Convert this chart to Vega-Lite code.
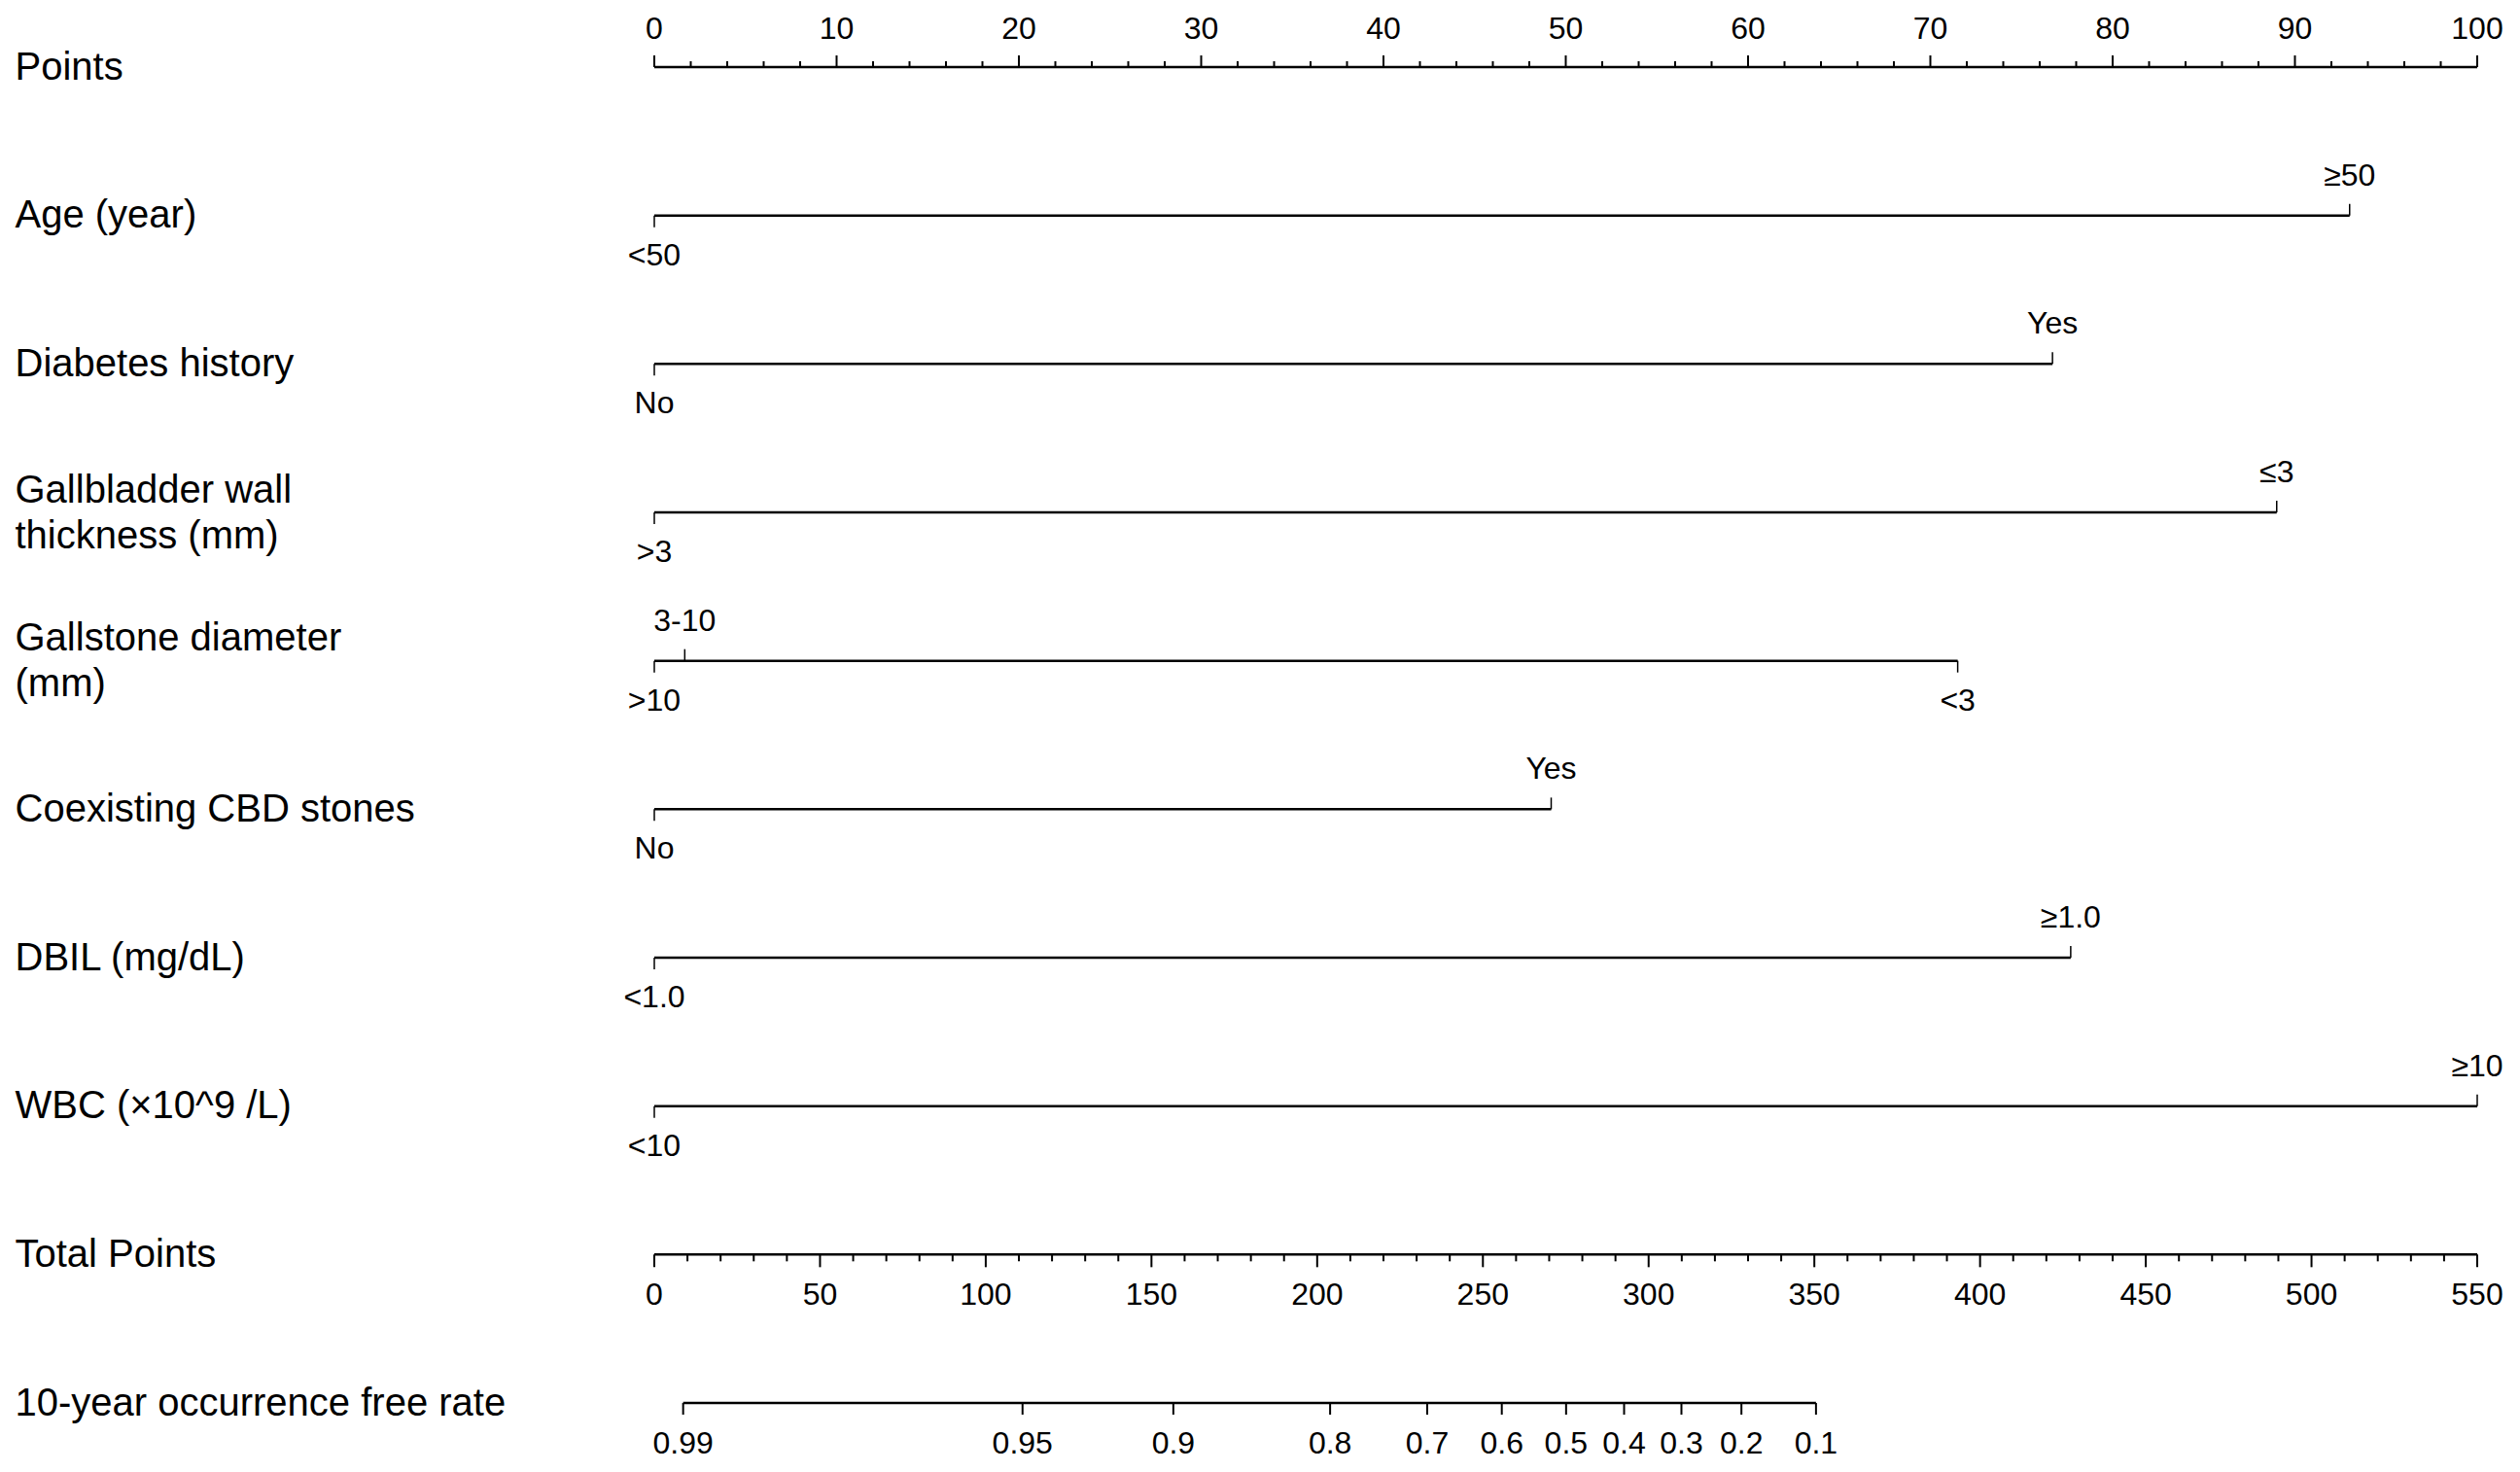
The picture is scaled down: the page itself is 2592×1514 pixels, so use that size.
{
  "$schema": "https://vega.github.io/schema/vega-lite/v6.json",
  "width": 1875,
  "height": 1374,
  "autosize": "none",
  "padding": {"left": 673, "top": 69, "right": 44, "bottom": 71},
  "background": "white",
  "config": {"view": {"stroke": null}, "text": {"font": "Liberation Sans", "fontSize": 32, "color": "black"}},
  "datasets": {
    "ptsMajor": [
      {"row": "Points", "v": 0}, {"row": "Points", "v": 10}, {"row": "Points", "v": 20}, {"row": "Points", "v": 30},
      {"row": "Points", "v": 40}, {"row": "Points", "v": 50}, {"row": "Points", "v": 60}, {"row": "Points", "v": 70},
      {"row": "Points", "v": 80}, {"row": "Points", "v": 90}, {"row": "Points", "v": 100}
    ],
    "ptsMinor": [
      {"row": "Points", "v": 2}, {"row": "Points", "v": 4}, {"row": "Points", "v": 6}, {"row": "Points", "v": 8},
      {"row": "Points", "v": 12}, {"row": "Points", "v": 14}, {"row": "Points", "v": 16}, {"row": "Points", "v": 18},
      {"row": "Points", "v": 22}, {"row": "Points", "v": 24}, {"row": "Points", "v": 26}, {"row": "Points", "v": 28},
      {"row": "Points", "v": 32}, {"row": "Points", "v": 34}, {"row": "Points", "v": 36}, {"row": "Points", "v": 38},
      {"row": "Points", "v": 42}, {"row": "Points", "v": 44}, {"row": "Points", "v": 46}, {"row": "Points", "v": 48},
      {"row": "Points", "v": 52}, {"row": "Points", "v": 54}, {"row": "Points", "v": 56}, {"row": "Points", "v": 58},
      {"row": "Points", "v": 62}, {"row": "Points", "v": 64}, {"row": "Points", "v": 66}, {"row": "Points", "v": 68},
      {"row": "Points", "v": 72}, {"row": "Points", "v": 74}, {"row": "Points", "v": 76}, {"row": "Points", "v": 78},
      {"row": "Points", "v": 82}, {"row": "Points", "v": 84}, {"row": "Points", "v": 86}, {"row": "Points", "v": 88},
      {"row": "Points", "v": 92}, {"row": "Points", "v": 94}, {"row": "Points", "v": 96}, {"row": "Points", "v": 98}
    ],
    "ptsLines": [
      {"row": "Points", "from": 0, "to": 100},
      {"row": "Age (year)", "from": 0, "to": 93.0},
      {"row": "Diabetes history", "from": 0, "to": 76.7},
      {"row": "Gallbladder wall\nthickness (mm)", "from": 0, "to": 89.0},
      {"row": "Gallstone diameter\n(mm)", "from": 0, "to": 71.5},
      {"row": "Coexisting CBD stones", "from": 0, "to": 49.2},
      {"row": "DBIL (mg/dL)", "from": 0, "to": 77.7},
      {"row": "WBC (×10^9 /L)", "from": 0, "to": 100}
    ],
    "vars": [
      {"row": "Age (year)", "level": "<50", "pts": 0, "side": "below"},
      {"row": "Age (year)", "level": "≥50", "pts": 93.0, "side": "above"},
      {"row": "Diabetes history", "level": "No", "pts": 0, "side": "below"},
      {"row": "Diabetes history", "level": "Yes", "pts": 76.7, "side": "above"},
      {"row": "Gallbladder wall\nthickness (mm)", "level": ">3", "pts": 0, "side": "below"},
      {"row": "Gallbladder wall\nthickness (mm)", "level": "≤3", "pts": 89.0, "side": "above"},
      {"row": "Gallstone diameter\n(mm)", "level": ">10", "pts": 0, "side": "below"},
      {"row": "Gallstone diameter\n(mm)", "level": "3-10", "pts": 1.67, "side": "above"},
      {"row": "Gallstone diameter\n(mm)", "level": "<3", "pts": 71.5, "side": "below"},
      {"row": "Coexisting CBD stones", "level": "No", "pts": 0, "side": "below"},
      {"row": "Coexisting CBD stones", "level": "Yes", "pts": 49.2, "side": "above"},
      {"row": "DBIL (mg/dL)", "level": "<1.0", "pts": 0, "side": "below"},
      {"row": "DBIL (mg/dL)", "level": "≥1.0", "pts": 77.7, "side": "above"},
      {"row": "WBC (×10^9 /L)", "level": "<10", "pts": 0, "side": "below"},
      {"row": "WBC (×10^9 /L)", "level": "≥10", "pts": 100, "side": "above"}
    ],
    "totLines": [
      {"row": "Total Points", "from": 0, "to": 550},
      {"row": "10-year occurrence free rate", "from": 8.7, "to": 350.5}
    ],
    "totMajor": [
      {"row": "Total Points", "v": 0}, {"row": "Total Points", "v": 50}, {"row": "Total Points", "v": 100},
      {"row": "Total Points", "v": 150}, {"row": "Total Points", "v": 200}, {"row": "Total Points", "v": 250},
      {"row": "Total Points", "v": 300}, {"row": "Total Points", "v": 350}, {"row": "Total Points", "v": 400},
      {"row": "Total Points", "v": 450}, {"row": "Total Points", "v": 500}, {"row": "Total Points", "v": 550}
    ],
    "totMinor": [
      {"row": "Total Points", "v": 10}, {"row": "Total Points", "v": 20}, {"row": "Total Points", "v": 30}, {"row": "Total Points", "v": 40},
      {"row": "Total Points", "v": 60}, {"row": "Total Points", "v": 70}, {"row": "Total Points", "v": 80}, {"row": "Total Points", "v": 90},
      {"row": "Total Points", "v": 110}, {"row": "Total Points", "v": 120}, {"row": "Total Points", "v": 130}, {"row": "Total Points", "v": 140},
      {"row": "Total Points", "v": 160}, {"row": "Total Points", "v": 170}, {"row": "Total Points", "v": 180}, {"row": "Total Points", "v": 190},
      {"row": "Total Points", "v": 210}, {"row": "Total Points", "v": 220}, {"row": "Total Points", "v": 230}, {"row": "Total Points", "v": 240},
      {"row": "Total Points", "v": 260}, {"row": "Total Points", "v": 270}, {"row": "Total Points", "v": 280}, {"row": "Total Points", "v": 290},
      {"row": "Total Points", "v": 310}, {"row": "Total Points", "v": 320}, {"row": "Total Points", "v": 330}, {"row": "Total Points", "v": 340},
      {"row": "Total Points", "v": 360}, {"row": "Total Points", "v": 370}, {"row": "Total Points", "v": 380}, {"row": "Total Points", "v": 390},
      {"row": "Total Points", "v": 410}, {"row": "Total Points", "v": 420}, {"row": "Total Points", "v": 430}, {"row": "Total Points", "v": 440},
      {"row": "Total Points", "v": 460}, {"row": "Total Points", "v": 470}, {"row": "Total Points", "v": 480}, {"row": "Total Points", "v": 490},
      {"row": "Total Points", "v": 510}, {"row": "Total Points", "v": 520}, {"row": "Total Points", "v": 530}, {"row": "Total Points", "v": 540}
    ],
    "surv": [
      {"row": "10-year occurrence free rate", "p": "0.99", "tot": 8.7},
      {"row": "10-year occurrence free rate", "p": "0.95", "tot": 111.1},
      {"row": "10-year occurrence free rate", "p": "0.9", "tot": 156.6},
      {"row": "10-year occurrence free rate", "p": "0.8", "tot": 203.9},
      {"row": "10-year occurrence free rate", "p": "0.7", "tot": 233.2},
      {"row": "10-year occurrence free rate", "p": "0.6", "tot": 255.7},
      {"row": "10-year occurrence free rate", "p": "0.5", "tot": 275.1},
      {"row": "10-year occurrence free rate", "p": "0.4", "tot": 292.6},
      {"row": "10-year occurrence free rate", "p": "0.3", "tot": 309.9},
      {"row": "10-year occurrence free rate", "p": "0.2", "tot": 328.0},
      {"row": "10-year occurrence free rate", "p": "0.1", "tot": 350.5}
    ]
  },
  "encoding": {
    "y": {
      "field": "row",
      "type": "nominal",
      "scale": {
        "type": "point",
        "padding": 0,
        "domain": ["Points", "Age (year)", "Diabetes history", "Gallbladder wall\nthickness (mm)", "Gallstone diameter\n(mm)", "Coexisting CBD stones", "DBIL (mg/dL)", "WBC (×10^9 /L)", "Total Points", "10-year occurrence free rate"]
      },
      "axis": {
        "title": null,
        "domain": false,
        "ticks": false,
        "grid": false,
        "labelAlign": "left",
        "labelBaseline": "middle",
        "labelPadding": 658,
        "labelLimit": 0,
        "labelFont": "Liberation Sans",
        "labelFontSize": 40,
        "labelColor": "black",
        "labelLineHeight": 47,
        "labelOffset": {"condition": {"test": "indexof(datum.value, '\\n') >= 0", "value": -23}, "value": 0},
        "labelExpr": "split(datum.label, '\\n')"
      }
    }
  },
  "resolve": {"scale": {"x": "independent"}},
  "layer": [
    {
      "data": {"name": "ptsLines"},
      "mark": {"type": "rule", "color": "black", "strokeWidth": 2.5},
      "encoding": {
        "x": {"field": "from", "type": "quantitative", "scale": {"domain": [0, 100], "nice": false}, "axis": null},
        "x2": {"field": "to"}
      }
    },
    {
      "data": {"name": "ptsMajor"},
      "mark": {"type": "tick", "orient": "vertical", "color": "black", "opacity": 1, "size": 12, "thickness": 2, "yOffset": -6},
      "encoding": {"x": {"field": "v", "type": "quantitative", "scale": {"domain": [0, 100], "nice": false}, "axis": null}}
    },
    {
      "data": {"name": "ptsMinor"},
      "mark": {"type": "tick", "orient": "vertical", "color": "black", "opacity": 1, "size": 6, "thickness": 2, "yOffset": -3},
      "encoding": {"x": {"field": "v", "type": "quantitative", "scale": {"domain": [0, 100], "nice": false}, "axis": null}}
    },
    {
      "data": {"name": "ptsMajor"},
      "mark": {"type": "text", "align": "center", "baseline": "middle", "yOffset": -39},
      "encoding": {
        "x": {"field": "v", "type": "quantitative", "scale": {"domain": [0, 100], "nice": false}, "axis": null},
        "text": {"field": "v", "type": "quantitative"}
      }
    },
    {
      "data": {"name": "vars"},
      "transform": [{"filter": "datum.side === 'above'"}],
      "mark": {"type": "tick", "orient": "vertical", "color": "black", "opacity": 1, "size": 12, "thickness": 1.5, "yOffset": -6},
      "encoding": {"x": {"field": "pts", "type": "quantitative", "scale": {"domain": [0, 100], "nice": false}, "axis": null}}
    },
    {
      "data": {"name": "vars"},
      "transform": [{"filter": "datum.side === 'below'"}],
      "mark": {"type": "tick", "orient": "vertical", "color": "black", "opacity": 1, "size": 12, "thickness": 1.5, "yOffset": 6},
      "encoding": {"x": {"field": "pts", "type": "quantitative", "scale": {"domain": [0, 100], "nice": false}, "axis": null}}
    },
    {
      "data": {"name": "vars"},
      "transform": [{"filter": "datum.side === 'above'"}],
      "mark": {"type": "text", "align": "center", "baseline": "middle", "yOffset": -41},
      "encoding": {
        "x": {"field": "pts", "type": "quantitative", "scale": {"domain": [0, 100], "nice": false}, "axis": null},
        "text": {"field": "level", "type": "nominal"}
      }
    },
    {
      "data": {"name": "vars"},
      "transform": [{"filter": "datum.side === 'below'"}],
      "mark": {"type": "text", "align": "center", "baseline": "middle", "yOffset": 41},
      "encoding": {
        "x": {"field": "pts", "type": "quantitative", "scale": {"domain": [0, 100], "nice": false}, "axis": null},
        "text": {"field": "level", "type": "nominal"}
      }
    },
    {
      "data": {"name": "totLines"},
      "mark": {"type": "rule", "color": "black", "strokeWidth": 2.5},
      "encoding": {
        "x": {"field": "from", "type": "quantitative", "scale": {"domain": [0, 550], "nice": false}, "axis": null},
        "x2": {"field": "to"}
      }
    },
    {
      "data": {"name": "totMajor"},
      "mark": {"type": "tick", "orient": "vertical", "color": "black", "opacity": 1, "size": 13, "thickness": 2, "yOffset": 6.5},
      "encoding": {"x": {"field": "v", "type": "quantitative", "scale": {"domain": [0, 550], "nice": false}, "axis": null}}
    },
    {
      "data": {"name": "totMinor"},
      "mark": {"type": "tick", "orient": "vertical", "color": "black", "opacity": 1, "size": 7, "thickness": 2, "yOffset": 3.5},
      "encoding": {"x": {"field": "v", "type": "quantitative", "scale": {"domain": [0, 550], "nice": false}, "axis": null}}
    },
    {
      "data": {"name": "totMajor"},
      "mark": {"type": "text", "align": "center", "baseline": "middle", "yOffset": 42},
      "encoding": {
        "x": {"field": "v", "type": "quantitative", "scale": {"domain": [0, 550], "nice": false}, "axis": null},
        "text": {"field": "v", "type": "quantitative"}
      }
    },
    {
      "data": {"name": "surv"},
      "mark": {"type": "tick", "orient": "vertical", "color": "black", "opacity": 1, "size": 12, "thickness": 2, "yOffset": 6},
      "encoding": {"x": {"field": "tot", "type": "quantitative", "scale": {"domain": [0, 550], "nice": false}, "axis": null}}
    },
    {
      "data": {"name": "surv"},
      "mark": {"type": "text", "align": "center", "baseline": "middle", "yOffset": 42},
      "encoding": {
        "x": {"field": "tot", "type": "quantitative", "scale": {"domain": [0, 550], "nice": false}, "axis": null},
        "text": {"field": "p", "type": "nominal"}
      }
    }
  ]
}
